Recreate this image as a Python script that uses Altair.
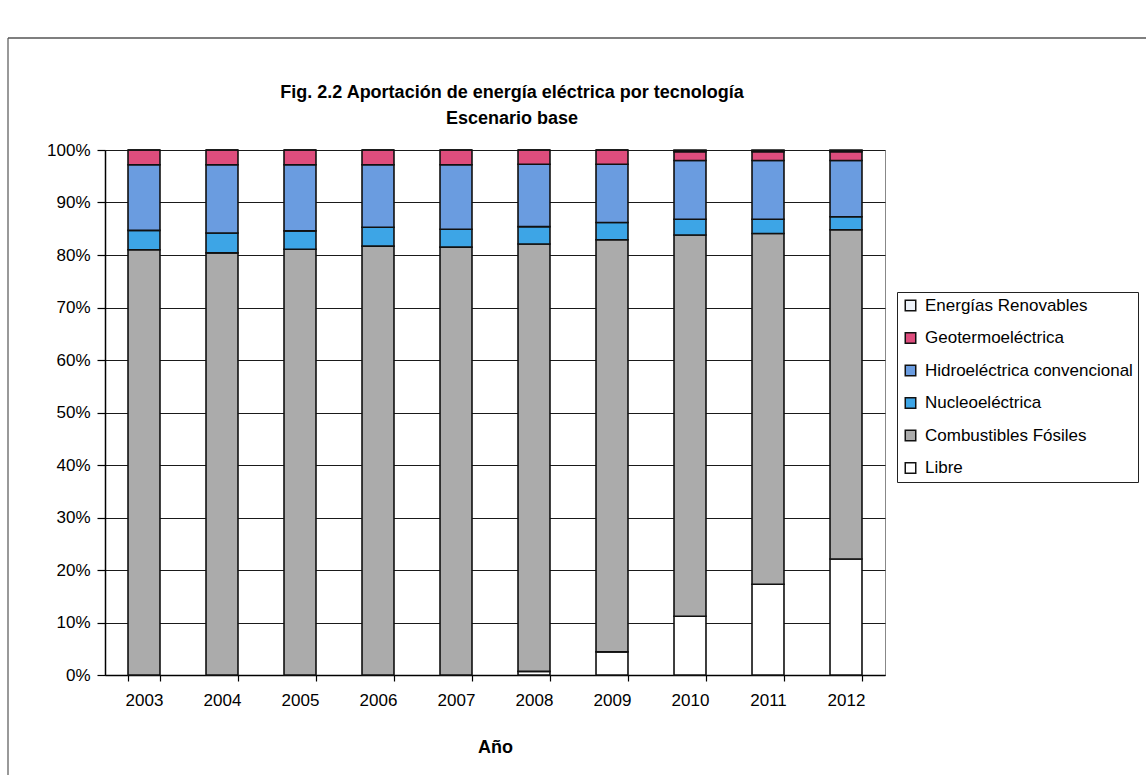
import altair as alt
import pandas as pd

# Share of electricity supply by technology, base scenario (percent of total)
years = [2003, 2004, 2005, 2006, 2007, 2008, 2009, 2010, 2011, 2012]
libre = [0.0, 0.0, 0.0, 0.0, 0.0, 0.7, 4.4, 11.2, 17.3, 22.1]
fosiles = [81.0, 80.4, 81.1, 81.7, 81.5, 81.4, 78.5, 72.6, 66.8, 62.7]
nucleo = [3.7, 3.8, 3.5, 3.6, 3.4, 3.3, 3.3, 3.0, 2.7, 2.5]
hidro = [12.5, 13.0, 12.6, 11.9, 12.3, 11.9, 11.1, 11.2, 11.2, 10.7]
geo = [2.8, 2.8, 2.8, 2.8, 2.8, 2.7, 2.7, 1.7, 1.7, 1.7]
renovables = [0.0, 0.0, 0.0, 0.0, 0.0, 0.0, 0.0, 0.3, 0.3, 0.3]

# stacking order, bottom to top
series = [
    ("Libre", libre),
    ("Combustibles Fósiles", fosiles),
    ("Nucleoeléctrica", nucleo),
    ("Hidroeléctrica convencional", hidro),
    ("Geotermoeléctrica", geo),
    ("Energías Renovables", renovables),
]
legend_order = [name for name, _ in reversed(series)]
colors = {
    "Energías Renovables": "#EEF3FA",
    "Geotermoeléctrica": "#DE4D7D",
    "Hidroeléctrica convencional": "#6A9CE0",
    "Nucleoeléctrica": "#3DA5E6",
    "Combustibles Fósiles": "#ABABAB",
    "Libre": "#FFFFFF",
}

rows = []
for k, (name, vals) in enumerate(series):
    for yr, v in zip(years, vals):
        rows.append({"Año": str(yr), "Tecnología": name, "valor": v, "orden": k})
df = pd.DataFrame(rows)

FONT = "Liberation Sans"

bars = alt.Chart(df).mark_bar(stroke="#111", strokeWidth=1.6).encode(
    x=alt.X(
        "Año:N",
        title="Año",
        scale=alt.Scale(paddingInner=0.59, paddingOuter=0.295),
        axis=alt.Axis(
            labelAngle=0,
            tickBand="extent",
            tickSize=6,
            labelPadding=11,
            titlePadding=30,
            grid=False,
        ),
    ),
    y=alt.Y(
        "valor:Q",
        stack="zero",
        title=None,
        scale=alt.Scale(domain=[0, 100], nice=False),
        axis=alt.Axis(
            values=list(range(0, 101, 10)),
            labelExpr="datum.value + '%'",
            tickSize=8,
            labelPadding=7,
            grid=True,
            gridColor="#1a1a1a",
            gridWidth=1,
        ),
    ),
    color=alt.Color(
        "Tecnología:N",
        scale=alt.Scale(domain=legend_order, range=[colors[n] for n in legend_order]),
        legend=alt.Legend(
            title=None,
            orient="none",
            legendX=792,
            legendY=142,
            symbolType="square",
            symbolSize=110,
            symbolStrokeColor="#111",
            symbolStrokeWidth=1.5,
            symbolOpacity=1,
            labelFontSize=17,
            labelFont=FONT,
            labelColor="#000",
            labelOffset=6,
            labelLimit=0,
            rowPadding=14.5,
            padding=5,
            strokeColor="#222",
            fillColor="#ffffff",
        ),
    ),
    order=alt.Order("orden:Q", sort="ascending"),
)

# outer frame of the figure (left and top edges)
frame_data = alt.Data(values=[{"k": 1}])
frame_left = alt.Chart(frame_data).mark_rule(color="#777", strokeWidth=1.5).encode(
    x=alt.value(-97), y=alt.value(-112), y2=alt.value(625)
)
frame_top = alt.Chart(frame_data).mark_rule(color="#555", strokeWidth=1.5).encode(
    x=alt.value(-97), x2=alt.value(1041), y=alt.value(-112)
)

chart = (
    alt.layer(frame_left, frame_top, bars)
    .properties(
        width=780,
        height=525,
        background="#ffffff",
        autosize=alt.AutoSizeParams(type="none"),
        padding={"left": 105, "top": 150, "right": 261, "bottom": 105},
        title=alt.TitleParams(
            text="Fig. 2.2 Aportación de energía eléctrica por tecnología",
            subtitle="Escenario base",
            font=FONT,
            subtitleFont=FONT,
            fontSize=18,
            subtitleFontSize=18,
            fontWeight="bold",
            subtitleFontWeight="bold",
            color="#000",
            subtitleColor="#000",
            anchor="middle",
            frame="group",
            dx=17,
            offset=-91,
            subtitlePadding=8,
        ),
    )
    .configure_view(stroke="#888", strokeWidth=1)
    .configure_axis(
        labelFont=FONT,
        titleFont=FONT,
        labelFontSize=17,
        titleFontSize=18,
        titleFontWeight="bold",
        labelColor="#000",
        titleColor="#000",
        domainColor="#000",
        domainWidth=1.5,
        tickColor="#000",
        tickWidth=1.2,
    )
)

chart.save("out.html", embed_options={"renderer": "svg", "actions": False})
